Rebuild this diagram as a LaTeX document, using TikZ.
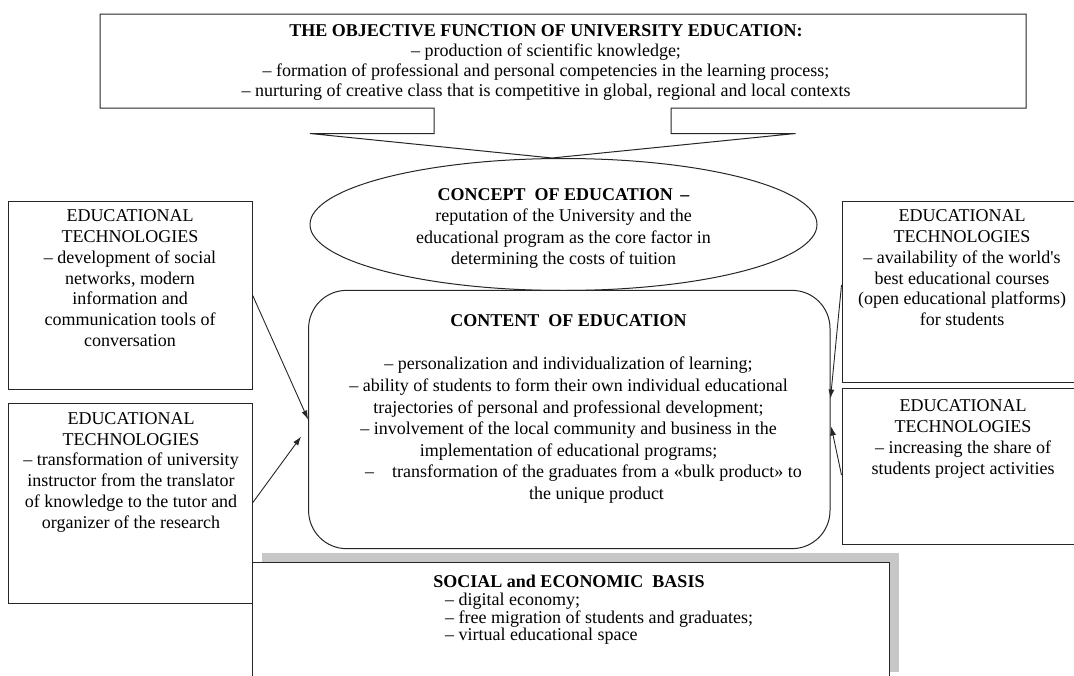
\documentclass[tikz,border=0pt]{standalone}
\usepackage{fontspec}
\setmainfont{Liberation Serif}
\usetikzlibrary{arrows.meta,calc,shapes.geometric}
\begin{document}
\begin{tikzpicture}[x=1pt,y=-1pt,
  ln/.style={draw=black!85, line width=1pt},
  box/.style={ln, fill=white, inner sep=0pt, shape=rectangle},
  txt/.style={inner sep=0pt, align=center, font=\fontsize{18}{20.7}\selectfont},
  arr/.style={draw=black!85, line width=0.9pt, -{Latex[length=9pt,width=6pt]}}]
\useasboundingbox (0,0) rectangle (1074,675);
\clip (0,0) rectangle (1074,675);
% top callout box
\draw[ln, fill=white] (100,14) -- (1026,14) -- (1026,108) -- (671,108) -- (671,133.5)
  -- (795.5,133.5) -- (552,158) -- (310,133.5) -- (434,133.5) -- (434,108) -- (100,108) -- cycle;
\node[txt, anchor=north, font=\fontsize{18}{20}\selectfont] (toptxt) at (546,24.1)
  {\textbf{THE OBJECTIVE FUNCTION OF UNIVERSITY EDUCATION:}\\
   – production of scientific knowledge;\\
   – formation of professional and personal competencies in the learning process;\\
   – nurturing of creative class that is competitive in global, regional and local contexts};
% ellipse
\node[ln, fill=white, ellipse, minimum width=507pt, minimum height=132pt, inner sep=0pt] (ell) at (563.5,224.5) {};
\node[txt, anchor=north, font=\fontsize{18}{21.5}\selectfont] (elltxt) at (563.5,188.1)
  {\textbf{CONCEPT\ \ OF EDUCATION \,–}\\
   reputation of the University and the\\
   educational program as the core factor in\\
   determining the costs of tuition};
% content box
\node[box, rounded corners=38pt, minimum width=521.4pt, minimum height=258.3pt] (cb) at (569.3,419.5) {};
\node[txt, anchor=north, font=\fontsize{18}{21.6}\selectfont] (cbtxt) at (568.5,314.6)
  {\textbf{CONTENT\ \ OF EDUCATION}\\[21.6pt]
   – personalization and individualization of learning;\\
   – ability of students to form their own individual educational\\
   trajectories of personal and professional development;\\
   – involvement of the local community and business in the\\
   implementation of educational programs;\\
   \hspace*{30pt}–\hspace{18pt}transformation of the graduates from a «bulk product» to\\
   \hspace*{56pt}the unique product};
% left boxes
\node[box, minimum width=244pt, minimum height=188pt] (lb1) at (130,295) {};
\node[txt, anchor=north] (lb1txt) at (130,209.8)
  {EDUCATIONAL\\ TECHNOLOGIES\\ – development of social\\ networks, modern\\ information and\\ communication tools of\\ conversation};
\node[box, minimum width=244pt, minimum height=200pt] (lb2) at (130,503) {};
\node[txt, anchor=north] (lb2txt) at (131,412.4)
  {EDUCATIONAL\\ TECHNOLOGIES\\ – transformation of university\\ instructor from the translator\\ of knowledge to the tutor and\\ organizer of the research};
% right boxes
\node[box, minimum width=240pt, minimum height=181pt] (rb1) at (962,291.5) {};
\node[txt, anchor=north] (rb1txt) at (962,209.8)
  {EDUCATIONAL\\ TECHNOLOGIES\\ – availability of the world\textquotesingle s\\ best educational courses\\ (open educational platforms)\\ for students};
\node[box, minimum width=240pt, minimum height=156pt] (rb2) at (962,466) {};
\node[txt, anchor=north] (rb2txt) at (963,399.8)
  {EDUCATIONAL\\ TECHNOLOGIES\\ – increasing the share of\\ students project activities};
% bottom box with shadow
\fill[black!22] (262,553) rectangle (899,672);
\node[box, minimum width=637pt, minimum height=120pt] (bb) at (570.5,622) {};
\node[txt, anchor=north] (bbtitle) at (569,575.1) {\textbf{SOCIAL and ECONOMIC\ \ BASIS}};
\node[txt, anchor=north west, align=left, font=\fontsize{18}{17.8}\selectfont] (bbtxt) at (445,592.7)
  {– digital economy;\\ – free migration of students and graduates;\\ – virtual educational space};
% arrows
\draw[arr] (lb1.east) -- (cb.west);
\draw[arr] (lb2.east) -- ($(cb.west)+(-7,17)$);
\draw[arr] ($(rb1.west)+(0,-6.5)$) -- ($(cb.east)+(0,-21)$);
\draw[arr] ($(rb2.west)+(0,9)$) -- ($(cb.east)+(0.7,7)$);
\end{tikzpicture}
\end{document}
